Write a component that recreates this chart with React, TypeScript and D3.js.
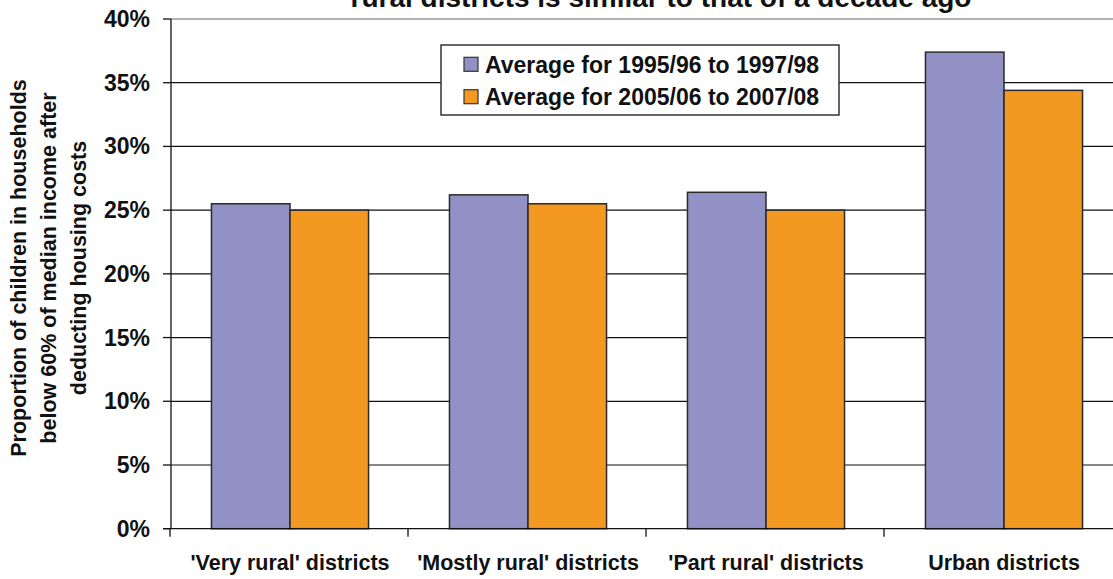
import React from "react";
import * as d3 from "d3";

const categories = ["'Very rural' districts", "'Mostly rural' districts", "'Part rural' districts", "Urban districts"];
const seriesNames = ["Average for 1995/96 to 1997/98", "Average for 2005/06 to 2007/08"];
const series1 = [25.5, 26.2, 26.4, 37.4];
const series2 = [25.0, 25.5, 25.0, 34.4];
const yTicks = [0, 5, 10, 15, 20, 25, 30, 35, 40];
const colors = ["#9191C5", "#F39820"];
const titleText = "rural districts is similar to that of a decade ago";
const yTitleLines = ["Proportion of children in households", "below 60% of median income after", "deducting housing costs"];

const W = 1113, H = 579;
const left = 171, right = 1123, top = 19, bottom = 528.7;
const FONT = "'Liberation Sans', Arial, sans-serif";

export default function App() {
  const y = d3.scaleLinear().domain([0, 40]).range([bottom, top]);
  const x = d3.scaleBand<string>().domain(categories).range([left, right]).paddingInner(0.34).paddingOuter(0.17);
  const xs = d3.scaleBand<number>().domain([0, 1]).range([0, x.bandwidth()]).padding(0);
  const step = x.step();
  const data = [series1, series2];
  return (
    <svg width={W} height={H} style={{ position: "absolute", left: 0, top: 0, background: "#fff" }} fontFamily={FONT}>
      <text x={661} y={7} textAnchor="middle" fontSize={28} fontWeight="bold" fill="#111">{titleText}</text>
      {/* gridlines */}
      {yTicks.filter(t => t > 0).map(t => (
        <line key={t} x1={left} x2={W} y1={y(t)} y2={y(t)} stroke={t === 40 ? "#9a9a9a" : "#111"} strokeWidth={t === 40 ? 1.5 : 1.2} />
      ))}
      {/* bars */}
      {categories.map((c, i) => (
        <g key={c}>
          {data.map((s, j) => (
            <rect key={j} x={(x(c) as number) + (xs(j) as number)} y={y(s[i])} width={xs.bandwidth()} height={y(0) - y(s[i])}
              fill={colors[j]} stroke="#2a2a2a" strokeWidth={1.5} />
          ))}
        </g>
      ))}
      {/* axes */}
      <line x1={left} x2={left} y1={top} y2={bottom} stroke="#111" strokeWidth={1.3} />
      <line x1={left - 8} x2={W} y1={bottom} y2={bottom} stroke="#111" strokeWidth={1.3} />
      {yTicks.map(t => (
        <g key={t}>
          <line x1={left - 8} x2={left} y1={y(t)} y2={y(t)} stroke="#111" strokeWidth={1.3} />
          <text x={150} y={y(t) + 8} textAnchor="end" fontSize={23} fontWeight="bold" fill="#111">{t}%</text>
        </g>
      ))}
      {categories.map((c, i) => (
        <line key={"t" + i} x1={left + i * step - 1} x2={left + i * step - 1} y1={bottom} y2={bottom + 8} stroke="#111" strokeWidth={1.3} />
      ))}
      {categories.map(c => (
        <text key={c} x={(x(c) as number) + x.bandwidth() / 2} y={569.5} textAnchor="middle" fontSize={21.5} fontWeight="bold" fill="#111">{c}</text>
      ))}
      {/* y title */}
      {yTitleLines.map((l, i) => (
        <text key={i} transform={`translate(${26 + i * 30},268) rotate(-90)`} textAnchor="middle" fontSize={21.5} fontWeight="bold" fill="#111">{l}</text>
      ))}
      {/* legend */}
      <rect x={441} y={45} width={398} height={70} fill="#fff" stroke="#333" strokeWidth={1.5} />
      {seriesNames.map((n, j) => (
        <g key={n}>
          <rect x={464} y={(j === 0 ? 64.3 : 96.7) - 7} width={14} height={14} fill={colors[j]} stroke="#333" strokeWidth={1.2} />
          <text x={485} y={(j === 0 ? 64.3 : 96.7) + 8.3} fontSize={23} fontWeight="bold" fill="#111">{n}</text>
        </g>
      ))}
    </svg>
  );
}
